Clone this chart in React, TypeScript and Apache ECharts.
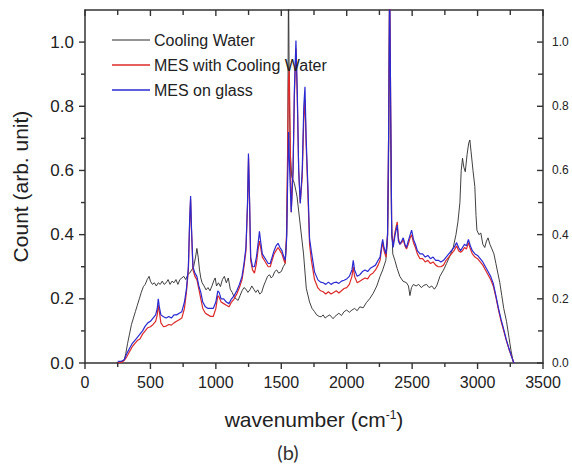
import { useEffect, useRef } from "react";
import * as echarts from "echarts";

const seriesNames = ["Cooling Water", "MES with Cooling Water", "MES on glass"];
const seriesColors = ["#2a2a2a", "#dc2a2a", "#2a2ad0"];

const coolingWater: [number, number][] = [
  [240, 0], [260, 0.003], [285, 0.005], [300, 0.01], [312, 0.03], [325, 0.06], [340, 0.09], [355, 0.12], [370, 0.14],
  [385, 0.16], [400, 0.18], [415, 0.2], [430, 0.22], [446, 0.238], [460, 0.245], [475, 0.26], [490, 0.27], [500, 0.255],
  [515, 0.245], [530, 0.25], [545, 0.24], [560, 0.25], [575, 0.245], [590, 0.255], [605, 0.245], [620, 0.25], [635, 0.26],
  [650, 0.245], [665, 0.255], [680, 0.25], [695, 0.26], [710, 0.245], [725, 0.26], [740, 0.265], [755, 0.27], [770, 0.26],
  [785, 0.275], [800, 0.28], [815, 0.29], [830, 0.3], [845, 0.33], [855, 0.357], [865, 0.33], [875, 0.29], [885, 0.265],
  [895, 0.25], [910, 0.24], [925, 0.228], [940, 0.235], [955, 0.225], [970, 0.24], [986, 0.258], [995, 0.265], [1005, 0.24],
  [1020, 0.25], [1035, 0.238], [1050, 0.26], [1065, 0.27], [1080, 0.25], [1095, 0.265], [1110, 0.23], [1125, 0.22],
  [1140, 0.205], [1155, 0.2], [1170, 0.195], [1185, 0.21], [1200, 0.225], [1215, 0.235], [1230, 0.23], [1245, 0.22],
  [1260, 0.228], [1275, 0.24], [1290, 0.23], [1305, 0.22], [1320, 0.228], [1335, 0.215], [1350, 0.22], [1365, 0.24],
  [1380, 0.255], [1395, 0.27], [1410, 0.275], [1423, 0.265], [1435, 0.27], [1450, 0.285], [1465, 0.29], [1480, 0.28],
  [1500, 0.285], [1515, 0.3], [1530, 0.31], [1542, 0.4], [1549, 0.65], [1555, 1.2], [1561, 0.85], [1568, 0.66],
  [1580, 0.58], [1600, 0.56], [1620, 0.52], [1645, 0.43], [1670, 0.34], [1691, 0.233], [1716, 0.19], [1735, 0.17],
  [1754, 0.16], [1770, 0.15], [1790, 0.145], [1805, 0.144], [1820, 0.15], [1835, 0.14], [1850, 0.145], [1870, 0.15],
  [1896, 0.138], [1910, 0.145], [1925, 0.15], [1940, 0.155], [1960, 0.148], [1980, 0.16], [2000, 0.165], [2020, 0.158],
  [2040, 0.165], [2060, 0.17], [2080, 0.163], [2100, 0.175], [2126, 0.172], [2150, 0.188], [2175, 0.2], [2202, 0.217],
  [2230, 0.24], [2254, 0.269], [2275, 0.29], [2299, 0.32], [2312, 0.38], [2320, 0.6], [2327, 1.15], [2334, 0.8],
  [2342, 0.45], [2352, 0.34], [2368, 0.32], [2385, 0.295], [2406, 0.27], [2430, 0.255], [2457, 0.25], [2472, 0.24],
  [2483, 0.21], [2495, 0.235], [2510, 0.245], [2530, 0.24], [2550, 0.245], [2570, 0.235], [2590, 0.242], [2610, 0.245],
  [2630, 0.235], [2650, 0.24], [2670, 0.23], [2687, 0.24], [2700, 0.255], [2712, 0.27], [2740, 0.29], [2763, 0.31],
  [2790, 0.335], [2814, 0.36], [2835, 0.4], [2850, 0.44], [2865, 0.5], [2875, 0.6], [2885, 0.638], [2895, 0.61],
  [2906, 0.596], [2920, 0.65], [2932, 0.685], [2941, 0.695], [2950, 0.66], [2965, 0.6], [2979, 0.55], [2988, 0.46],
  [2995, 0.414], [3010, 0.4], [3025, 0.405], [3040, 0.37], [3055, 0.36], [3068, 0.38], [3080, 0.39], [3094, 0.37],
  [3110, 0.355], [3125, 0.34], [3140, 0.31], [3155, 0.28], [3170, 0.25], [3185, 0.21], [3200, 0.17], [3221, 0.13],
  [3240, 0.08], [3255, 0.04], [3272, 0.004], [3280, 0],
];

const mesWithCoolingWater: [number, number][] = [
  [250, 0], [280, 0.002], [300, 0.008], [320, 0.02], [340, 0.035], [360, 0.05], [380, 0.06], [400, 0.07], [420, 0.075],
  [440, 0.09], [460, 0.1], [480, 0.11], [500, 0.113], [520, 0.12], [540, 0.13], [552, 0.15], [560, 0.18], [568, 0.16],
  [580, 0.125], [600, 0.113], [620, 0.115], [640, 0.12], [660, 0.118], [680, 0.125], [700, 0.13], [720, 0.135],
  [740, 0.14], [760, 0.17], [775, 0.22], [790, 0.29], [800, 0.44], [807, 0.51], [814, 0.41], [825, 0.29], [840, 0.27],
  [855, 0.26], [870, 0.23], [885, 0.2], [900, 0.17], [920, 0.155], [940, 0.15], [960, 0.145], [980, 0.145], [1000, 0.17],
  [1015, 0.21], [1025, 0.205], [1040, 0.19], [1060, 0.185], [1080, 0.18], [1100, 0.175], [1120, 0.19], [1140, 0.2],
  [1160, 0.215], [1180, 0.235], [1200, 0.26], [1215, 0.3], [1230, 0.35], [1242, 0.49], [1250, 0.64], [1258, 0.49],
  [1266, 0.32], [1280, 0.29], [1295, 0.28], [1310, 0.31], [1325, 0.36], [1333, 0.38], [1342, 0.36], [1355, 0.33],
  [1370, 0.32], [1385, 0.31], [1400, 0.3], [1415, 0.3], [1430, 0.32], [1445, 0.34], [1460, 0.35], [1475, 0.36],
  [1490, 0.35], [1505, 0.34], [1520, 0.32], [1530, 0.31], [1540, 0.4], [1548, 0.65], [1555, 0.88], [1561, 0.92],
  [1568, 0.7], [1576, 0.47], [1590, 0.6], [1600, 0.83], [1612, 0.98], [1622, 0.83], [1633, 0.6], [1645, 0.5],
  [1660, 0.58], [1672, 0.76], [1681, 0.82], [1690, 0.68], [1704, 0.52], [1716, 0.37], [1730, 0.32], [1754, 0.26],
  [1780, 0.234], [1800, 0.225], [1820, 0.222], [1840, 0.215], [1860, 0.222], [1880, 0.215], [1900, 0.22], [1920, 0.225],
  [1940, 0.218], [1960, 0.225], [1980, 0.232], [2000, 0.235], [2020, 0.245], [2040, 0.27], [2050, 0.3], [2060, 0.27],
  [2080, 0.25], [2100, 0.255], [2120, 0.26], [2140, 0.265], [2160, 0.262], [2180, 0.275], [2200, 0.28], [2220, 0.29],
  [2240, 0.305], [2255, 0.32], [2268, 0.36], [2275, 0.375], [2285, 0.35], [2300, 0.33], [2312, 0.4], [2320, 0.7],
  [2328, 1.2], [2336, 0.8], [2344, 0.4], [2355, 0.37], [2370, 0.41], [2386, 0.44], [2395, 0.39], [2406, 0.37],
  [2420, 0.375], [2432, 0.385], [2445, 0.365], [2457, 0.355], [2470, 0.37], [2485, 0.39], [2496, 0.4], [2510, 0.375],
  [2525, 0.36], [2540, 0.34], [2560, 0.325], [2580, 0.325], [2600, 0.315], [2620, 0.32], [2640, 0.31], [2660, 0.315],
  [2680, 0.305], [2700, 0.3], [2720, 0.3], [2740, 0.305], [2760, 0.32], [2780, 0.33], [2800, 0.34], [2820, 0.35],
  [2840, 0.365], [2855, 0.35], [2870, 0.345], [2885, 0.35], [2900, 0.36], [2915, 0.355], [2930, 0.375], [2945, 0.355],
  [2960, 0.34], [2980, 0.33], [3000, 0.325], [3020, 0.315], [3040, 0.305], [3060, 0.29], [3080, 0.275], [3100, 0.26],
  [3120, 0.24], [3140, 0.205], [3160, 0.165], [3180, 0.13], [3200, 0.1], [3220, 0.07], [3240, 0.043], [3260, 0.02],
  [3275, 0.003], [3280, 0],
];

const mesOnGlass: [number, number][] = [
  [250, 0.005], [280, 0.006], [300, 0.01], [320, 0.03], [340, 0.045], [360, 0.06], [380, 0.07], [400, 0.08], [420, 0.09],
  [440, 0.1], [460, 0.115], [480, 0.125], [500, 0.13], [520, 0.14], [540, 0.15], [552, 0.17], [560, 0.2], [568, 0.175],
  [580, 0.15], [600, 0.144], [620, 0.14], [640, 0.145], [660, 0.14], [680, 0.15], [700, 0.15], [720, 0.155], [740, 0.16],
  [760, 0.19], [775, 0.23], [790, 0.3], [800, 0.45], [807, 0.52], [814, 0.42], [825, 0.3], [840, 0.28], [855, 0.27],
  [870, 0.24], [885, 0.22], [900, 0.19], [920, 0.175], [940, 0.17], [960, 0.17], [980, 0.17], [1000, 0.19], [1015, 0.225],
  [1025, 0.22], [1040, 0.2], [1060, 0.2], [1080, 0.19], [1100, 0.185], [1120, 0.2], [1140, 0.21], [1160, 0.225],
  [1180, 0.245], [1200, 0.27], [1215, 0.31], [1230, 0.36], [1242, 0.5], [1249, 0.653], [1258, 0.5], [1266, 0.33],
  [1280, 0.3], [1295, 0.3], [1310, 0.33], [1325, 0.38], [1333, 0.41], [1342, 0.38], [1355, 0.34], [1370, 0.33],
  [1385, 0.32], [1400, 0.31], [1415, 0.31], [1430, 0.33], [1445, 0.35], [1460, 0.365], [1475, 0.373], [1490, 0.36],
  [1505, 0.35], [1520, 0.33], [1530, 0.32], [1540, 0.38], [1548, 0.55], [1556, 0.72], [1564, 0.6], [1576, 0.47],
  [1590, 0.6], [1600, 0.85], [1612, 1.005], [1622, 0.85], [1633, 0.6], [1645, 0.497], [1660, 0.6], [1672, 0.8],
  [1681, 0.861], [1690, 0.7], [1704, 0.544], [1716, 0.388], [1730, 0.347], [1754, 0.284], [1780, 0.259], [1800, 0.252],
  [1820, 0.25], [1840, 0.245], [1860, 0.252], [1880, 0.245], [1900, 0.25], [1920, 0.252], [1940, 0.248], [1960, 0.255],
  [1980, 0.258], [2000, 0.262], [2020, 0.27], [2040, 0.29], [2050, 0.32], [2060, 0.29], [2080, 0.27], [2100, 0.275],
  [2120, 0.285], [2140, 0.29], [2160, 0.285], [2180, 0.295], [2200, 0.3], [2220, 0.305], [2240, 0.32], [2255, 0.33],
  [2268, 0.37], [2275, 0.385], [2285, 0.36], [2300, 0.34], [2312, 0.4], [2320, 0.7], [2328, 1.2], [2336, 0.8],
  [2344, 0.4], [2355, 0.36], [2370, 0.4], [2386, 0.43], [2395, 0.38], [2406, 0.37], [2420, 0.38], [2432, 0.39],
  [2445, 0.37], [2457, 0.36], [2470, 0.38], [2485, 0.4], [2496, 0.414], [2510, 0.385], [2525, 0.37], [2540, 0.35],
  [2560, 0.34], [2580, 0.34], [2600, 0.33], [2620, 0.335], [2640, 0.325], [2660, 0.33], [2680, 0.32], [2700, 0.32],
  [2720, 0.315], [2740, 0.32], [2760, 0.33], [2780, 0.34], [2800, 0.35], [2820, 0.36], [2840, 0.375], [2855, 0.36],
  [2870, 0.35], [2885, 0.36], [2900, 0.37], [2915, 0.365], [2930, 0.385], [2945, 0.365], [2960, 0.35], [2980, 0.34],
  [3000, 0.335], [3020, 0.325], [3040, 0.315], [3060, 0.3], [3080, 0.285], [3100, 0.27], [3120, 0.248], [3140, 0.21],
  [3160, 0.17], [3180, 0.135], [3200, 0.105], [3220, 0.072], [3240, 0.045], [3260, 0.02], [3275, 0.003], [3280, 0],
];

const xMajorTicks = [0, 500, 1000, 1500, 2000, 2500, 3000, 3500];
const xMinorTicks = [250, 750, 1250, 1750, 2250, 2750, 3250];
const yMajorTicks = [0, 0.2, 0.4, 0.6, 0.8, 1.0];
const yMinorTicks = [0.1, 0.3, 0.5, 0.7, 0.9];

const X_MIN = 0, X_MAX = 3500, Y_MIN = 0, Y_MAX = 1.1;
const FONT = "'Liberation Sans', Arial, sans-serif";
const AXIS = "#333";
const TEXT = "#222";

export default function App() {
  const ref = useRef<HTMLDivElement>(null);
  useEffect(() => {
    if (!ref.current) return;
    const chart = echarts.init(ref.current, undefined, { renderer: "svg" });
    const axisLine = { show: true, onZero: false, lineStyle: { color: AXIS, width: 1.5 } };

    const legendItems: any[] = [];
    seriesNames.forEach((name, i) => {
      const cy = 40 + i * 25;
      legendItems.push({
        type: "line",
        shape: { x1: 112, y1: cy, x2: 150, y2: cy },
        style: { stroke: seriesColors[i], lineWidth: i === 0 ? 1 : 1.3 },
        z: 10,
      });
      legendItems.push({
        type: "text",
        x: 154,
        y: cy,
        style: { text: name, fontSize: 16, fontFamily: FONT, fill: TEXT, textVerticalAlign: "middle", verticalAlign: "middle" },
        z: 10,
      });
    });
    const caption = {
      type: "text",
      x: 288,
      y: 452,
      style: {
        text: "(b)", fontSize: 20, fontFamily: "Lato, 'Open Sans', sans-serif", fill: "#333",
        textAlign: "center", textVerticalAlign: "middle", align: "center", verticalAlign: "middle",
      },
    };

    chart.setOption({
      animation: false,
      backgroundColor: "#fff",
      grid: { left: 85, right: 29, top: 10, bottom: 102, containLabel: false },
      xAxis: [
        {
          type: "value", min: X_MIN, max: X_MAX, interval: 500, position: "bottom",
          splitLine: { show: false }, axisLine, axisTick: { show: false },
          axisLabel: { fontSize: 16, color: TEXT, fontFamily: FONT, margin: 11, formatter: (v: number) => String(v) },
          name: "{a|wavenumber (cm}{s|-1}{a|)}",
          nameLocation: "middle",
          nameGap: 46,
          nameTextStyle: {
            rich: {
              a: { fontSize: 21, color: TEXT, fontFamily: FONT, verticalAlign: "bottom" },
              s: { fontSize: 12, color: TEXT, fontFamily: FONT, verticalAlign: "top" },
            },
          },
        },
        {
          type: "value", min: X_MIN, max: X_MAX, interval: 500, position: "top",
          splitLine: { show: false }, axisLine, axisTick: { show: false }, axisLabel: { show: false },
        },
      ],
      yAxis: [
        {
          type: "value", min: Y_MIN, max: Y_MAX, position: "left", interval: 0.2,
          splitLine: { show: false }, axisLine, axisTick: { show: false },
          axisLabel: {
            fontSize: 17, color: TEXT, fontFamily: FONT, margin: 11, customValues: yMajorTicks,
            formatter: (v: number) => v.toFixed(1),
          },
          name: "Count (arb. unit)",
          nameLocation: "middle",
          nameGap: 54,
          nameTextStyle: { fontSize: 21, color: TEXT, fontFamily: FONT },
        },
        {
          type: "value", min: Y_MIN, max: Y_MAX, position: "right", interval: 0.2,
          splitLine: { show: false }, axisLine, axisTick: { show: false },
          axisLabel: {
            fontSize: 12, color: TEXT, fontFamily: FONT, margin: 9, customValues: yMajorTicks,
            formatter: (v: number) => v.toFixed(1),
          },
        },
      ],
      graphic: [...legendItems, caption],
      series: [
        {
          name: seriesNames[0], type: "line", data: coolingWater, symbol: "none", showSymbol: false,
          xAxisIndex: 0, yAxisIndex: 0, clip: true, color: seriesColors[0], lineStyle: { width: 0.9, color: seriesColors[0] },
        },
        {
          name: seriesNames[1], type: "line", data: mesWithCoolingWater, symbol: "none", showSymbol: false,
          xAxisIndex: 0, yAxisIndex: 0, clip: true, color: seriesColors[1], lineStyle: { width: 1.2, color: seriesColors[1] },
        },
        {
          name: seriesNames[2], type: "line", data: mesOnGlass, symbol: "none", showSymbol: false,
          xAxisIndex: 0, yAxisIndex: 0, clip: true, color: seriesColors[2], lineStyle: { width: 1.2, color: seriesColors[2] },
        },
      ],
    });

    // tick marks as thin filled rects, positioned through the chart's own scales
    const finder = { gridIndex: 0 };
    const px = (x: number, y: number) => chart.convertToPixel(finder, [x, y]) as number[];
    const W = 1.4;
    const ticks: any[] = [];
    const rect = (x: number, y: number, width: number, height: number) => ({
      type: "rect",
      shape: { x, y, width, height },
      style: { fill: AXIS },
      z: 20,
      silent: true,
    });
    const addX = (vals: number[], outLen: number, inLen: number) => {
      vals.forEach((v) => {
        const b = px(v, Y_MIN);
        const t = px(v, Y_MAX);
        ticks.push(rect(b[0] - W / 2, b[1], W, outLen));
        ticks.push(rect(t[0] - W / 2, t[1], W, inLen));
      });
    };
    const addY = (vals: number[], outLen: number, inLen: number) => {
      vals.forEach((v) => {
        const l = px(X_MIN, v);
        const r = px(X_MAX, v);
        ticks.push(rect(l[0] - outLen, l[1] - W / 2, outLen, W));
        ticks.push(rect(r[0] - inLen, r[1] - W / 2, inLen, W));
      });
    };
    addX(xMajorTicks, 6, 6);
    addX(xMinorTicks, 4, 5);
    addY(yMajorTicks, 6, 6);
    addY(yMinorTicks, 4, 5);
    chart.setOption({ graphic: [...legendItems, caption, ...ticks] });

    return () => chart.dispose();
  }, []);
  return <div ref={ref} style={{ position: "fixed", left: 0, top: 0, width: 572, height: 465 }} />;
}
